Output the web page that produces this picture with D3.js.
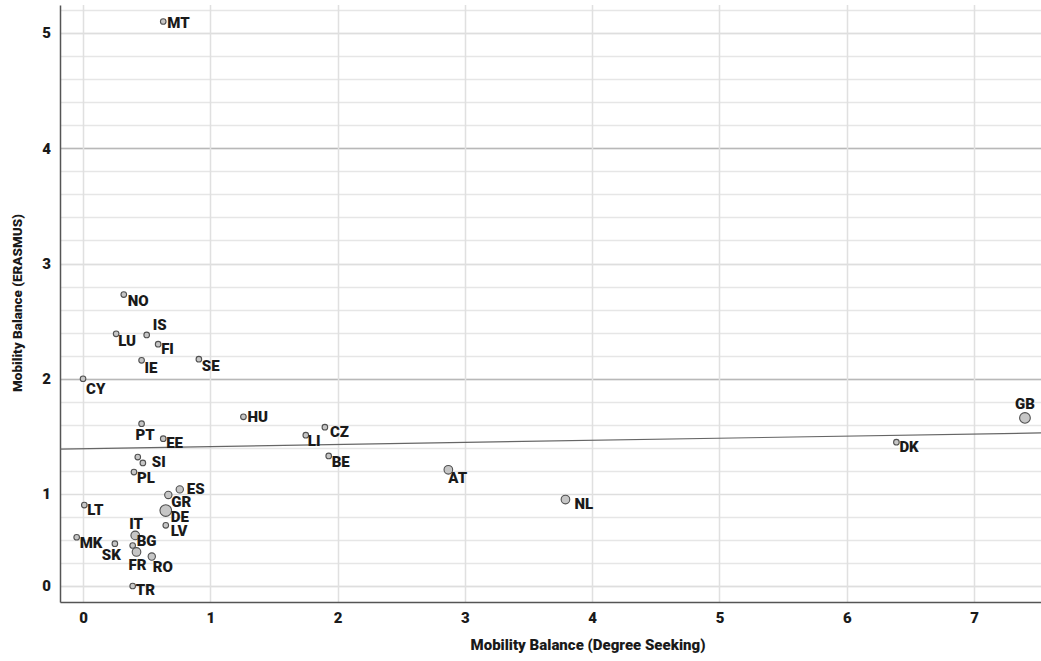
<!DOCTYPE html>
<html>
<head>
<meta charset="utf-8">
<script src="https://cdn.jsdelivr.net/npm/d3@7"></script>
<style>
  body { margin: 0; background: #fff; }
  text { font-family: Roboto, "DejaVu Sans", sans-serif; font-weight: 900; fill: #1a1a1a; }
</style>
</head>
<body>
<svg id="chart"></svg>
<script>
// country codes, degree seeking balance (x), erasmus balance (y), bubble size
var countries = ["MT","NO","IS","LU","FI","IE","SE","CY","HU","PT","EE","CZ","LI","BE","","SI","PL","ES","GR","DE","LV","LT","AT","NL","IT","BG","MK","SK","FR","RO","TR","GB","DK"];
var degreeSeeking = [0.63,0.32,0.50,0.26,0.59,0.46,0.91,0.00,1.26,0.46,0.63,1.90,1.75,1.93,0.43,0.47,0.40,0.76,0.67,0.65,0.65,0.01,2.87,3.79,0.41,0.39,-0.05,0.25,0.42,0.54,0.39,7.40,6.39];
var erasmus = [5.10,2.73,2.38,2.39,2.30,2.16,2.17,2.00,1.67,1.61,1.48,1.58,1.51,1.33,1.32,1.27,1.19,1.04,0.99,0.82,0.66,0.88,1.21,0.94,0.55,0.44,0.53,0.46,0.37,0.32,0.00,1.66,1.45];
var bubbleSize = [1,1,1,1,1,1,1,1,1,1,1,1,1,1,1,1,1,2,2,6,1,1,3,3,3,1,1,1,3,2,1,5,1];

// regression line end points
var trendX = [-0.18, 7.53];
var trendY = [1.39, 1.53];

var xTicks = [0,1,2,3,4,5,6,7];
var yTicks = [0,1,2,3,4,5];

// label offsets relative to point (layout only)
var labelPos = {
  MT:[4,1], NO:[4,6], IS:[6,-10], LU:[2,7], FI:[3,4], IE:[3,7], SE:[3,6], CY:[3,10],
  HU:[4,0], PT:[-6,11], EE:[3,4], CZ:[5,4], LI:[2,5], BE:[3,6], SI:[9,-1], PL:[3,5],
  ES:[7,-1], GR:[3,7], DE:[5,6], LV:[5,5], LT:[3,5], AT:[0,8], NL:[9,4], IT:[-6,-12],
  BG:[4,-5], MK:[3,5], SK:[-13,11], FR:[-8,13], RO:[1,10], TR:[3,4], DK:[3,4]
};

var data = countries.map(function(c, i) {
  return {code: c, x: degreeSeeking[i], y: erasmus[i], s: bubbleSize[i]};
});

var width = 1041, height = 661;
var plot = {left: 60, right: 1041, top: 5, bottom: 602};

var svg = d3.select('#chart').attr('width', width).attr('height', height);

var xScale = d3.scaleLinear().domain([-0.181, 7.526]).range([plot.left, plot.right]);
// the axis is stretched above 1 and compressed below it
var yScale = d3.scaleLinear().domain([-0.174, 1, 5.243]).range([plot.bottom, 494, plot.top]);
var rScale = d3.scaleSqrt().domain([1, 6]).range([2.8, 5.8]);

// horizontal grid
var minorY = d3.range(1.2, 5.21, 0.2).concat([0, 0.25, 0.5, 0.75]);
svg.append('g').selectAll('line').data(minorY).enter().append('line')
  .attr('x1', plot.left).attr('x2', plot.right)
  .attr('y1', function(d) { return Math.round(yScale(d)) + 0.5; })
  .attr('y2', function(d) { return Math.round(yScale(d)) + 0.5; })
  .attr('stroke', '#e6e6e6').attr('stroke-width', 1.5);

svg.append('g').selectAll('line').data(yTicks).enter().append('line')
  .attr('x1', plot.left).attr('x2', plot.right)
  .attr('y1', function(d) { return Math.round(yScale(d)) + 0.5; })
  .attr('y2', function(d) { return Math.round(yScale(d)) + 0.5; })
  .attr('stroke', function(d) { return (d == 2 || d == 4) ? '#b8b8b8' : '#dedede'; })
  .attr('stroke-width', 1.5);

// vertical grid
svg.append('g').selectAll('line').data(xTicks).enter().append('line')
  .attr('x1', function(d) { return Math.round(xScale(d)) + 0.5; })
  .attr('x2', function(d) { return Math.round(xScale(d)) + 0.5; })
  .attr('y1', plot.top).attr('y2', plot.bottom)
  .attr('stroke', '#e0e0e0').attr('stroke-width', 1.5);

// axes
var xAxis = svg.append('g')
  .attr('transform', 'translate(0,' + plot.bottom + ')')
  .call(d3.axisBottom(xScale).tickValues(xTicks).tickFormat(d3.format('d')).tickSize(0).tickPadding(10));
xAxis.select('.domain').attr('stroke', '#555').attr('stroke-width', 1.5);
xAxis.selectAll('text').style('font-size', '15px').attr('fill', '#1a1a1a');

var yAxis = svg.append('g')
  .attr('transform', 'translate(' + plot.left + ',0)')
  .call(d3.axisLeft(yScale).tickValues(yTicks).tickFormat(d3.format('d')).tickSize(0).tickPadding(9));
yAxis.select('.domain').attr('stroke', '#555').attr('stroke-width', 1.5);
yAxis.selectAll('text').style('font-size', '15px').attr('fill', '#1a1a1a');

// trend line
svg.append('line')
  .attr('x1', xScale(trendX[0])).attr('y1', yScale(trendY[0]))
  .attr('x2', xScale(trendX[1])).attr('y2', yScale(trendY[1]))
  .attr('stroke', '#666').attr('stroke-width', 1.2);

// points
svg.append('g').selectAll('circle').data(data).enter().append('circle')
  .attr('cx', function(d) { return xScale(d.x); })
  .attr('cy', function(d) { return yScale(d.y); })
  .attr('r', function(d) { return rScale(d.s); })
  .attr('fill', '#c6c6c6')
  .attr('stroke', '#505050')
  .attr('stroke-width', 1.1);

// labels
svg.append('g').selectAll('text').data(data.filter(function(d) { return d.code != ''; })).enter().append('text')
  .attr('x', function(d) {
    if (d.code == 'GB') return xScale(d.x);
    return xScale(d.x) + labelPos[d.code][0];
  })
  .attr('y', function(d) {
    if (d.code == 'GB') return yScale(d.y) - 14;
    return yScale(d.y) + labelPos[d.code][1];
  })
  .attr('dy', '0.36em')
  .attr('text-anchor', function(d) { return d.code == 'GB' ? 'middle' : 'start'; })
  .style('font-size', '15px')
  .text(function(d) { return d.code; });

// axis titles
svg.append('text')
  .attr('x', 588).attr('y', 650)
  .attr('text-anchor', 'middle')
  .style('font-size', '15px')
  .text('Mobility Balance (Degree Seeking)');

svg.append('text')
  .attr('transform', 'translate(17,303) rotate(-90)')
  .attr('text-anchor', 'middle')
  .attr('dy', '0.35em')
  .style('font-size', '13.5px')
  .text('Mobility Balance (ERASMUS)');
</script>
</body>
</html>
